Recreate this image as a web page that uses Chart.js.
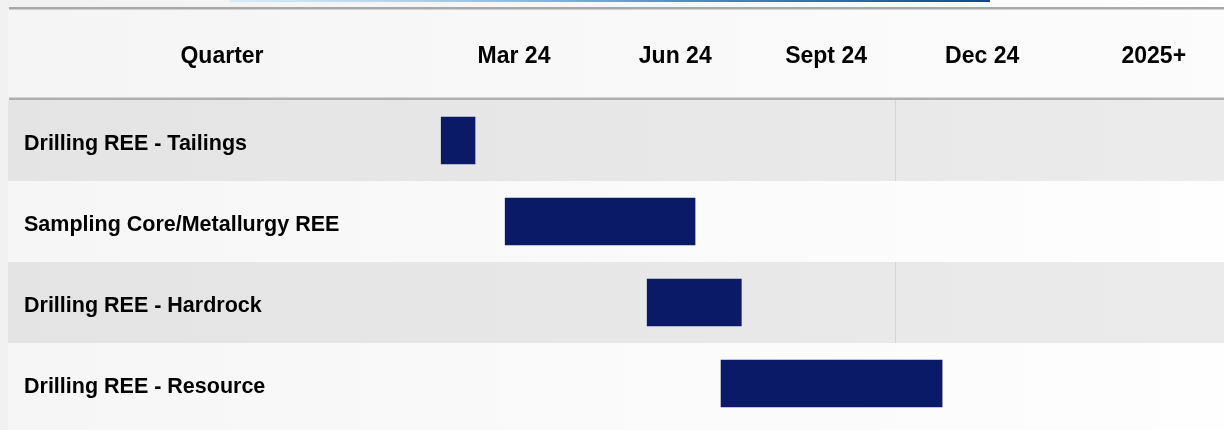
<!DOCTYPE html>
<html>
<head>
<meta charset="utf-8">
<script src="https://cdn.jsdelivr.net/npm/chart.js@4"></script>
<style>
    html, body { margin: 0; padding: 0; background: #f6f6f6; }
    #wrap { width: 1224px; height: 430px; }
</style>
</head>
<body>
<div id="wrap"><canvas id="gantt" width="1224" height="430"></canvas></div>
<script>
'use strict';

// Tasks (rows) and their start / end, in months from Jan 2024
const tasks = [
    'Drilling REE - Tailings',
    'Sampling Core/Metallurgy REE',
    'Drilling REE - Hardrock',
    'Drilling REE - Resource'
];
const taskStart = [0.1, 1.33, 4.06, 5.48];
const taskEnd = [0.75, 4.98, 5.87, 9.73];

// Header columns
const quarterLabels = ['Mar 24', 'Jun 24', 'Sept 24', 'Dec 24', '2025+'];
const quarterTicks = [1.5, 4.6, 7.5, 10.5, 13.8];
const headerTitle = 'Quarter';

const FONT = "'Liberation Sans', Arial, sans-serif";

// Draws the table look: header band, striped rows, rules
const tableBackdrop = {
    id: 'tableBackdrop',
    beforeDraw(chart) {
        const ctx = chart.ctx;
        const area = chart.chartArea;
        const x = chart.scales.x;
        const y = chart.scales.y;
        const left = 8;
        const right = chart.width;

        ctx.save();

        // page background
        let g = ctx.createLinearGradient(0, 0, chart.width, 0);
        g.addColorStop(0, '#f1f1f1');
        g.addColorStop(1, '#fdfdfd');
        ctx.fillStyle = g;
        ctx.fillRect(0, 0, chart.width, chart.height);

        // header band
        g = ctx.createLinearGradient(left, 0, right, 0);
        g.addColorStop(0, '#f5f5f5');
        g.addColorStop(1, '#fcfcfc');
        ctx.fillStyle = g;
        ctx.fillRect(left, 9, right - left, area.top - 9);

        // row stripes
        const grey = ctx.createLinearGradient(left, 0, right, 0);
        grey.addColorStop(0, '#e4e4e4');
        grey.addColorStop(1, '#ebebeb');
        const white = ctx.createLinearGradient(left, 0, right, 0);
        white.addColorStop(0, '#f6f6f6');
        white.addColorStop(1, '#fefefe');
        const sepX = x.getPixelForValue(8.83);

        tasks.forEach(function(t, i) {
            const top = i === 0 ? area.top : y.getPixelForValue(i - 0.5);
            const bottom = i === tasks.length - 1 ? chart.height : y.getPixelForValue(i + 0.5);
            ctx.fillStyle = i % 2 === 0 ? grey : white;
            ctx.fillRect(left, top, right - left, bottom - top);
            if (i % 2 === 0) {
                ctx.fillStyle = '#d5d5d5';
                ctx.fillRect(Math.round(sepX), top, 1, bottom - top);
            }
        });

        // rules
        ctx.fillStyle = '#a8a8a8';
        ctx.fillRect(9, 7, right - 9, 2.5);
        ctx.fillStyle = '#b0b0b0';
        ctx.fillRect(9, area.top - 2.5, right - 9, 2.5);

        // blue accent on top
        g = ctx.createLinearGradient(230, 0, 990, 0);
        g.addColorStop(0, 'rgba(190, 225, 245, 0.5)');
        g.addColorStop(0.6, '#4f8cc4');
        g.addColorStop(1, '#0b4a92');
        ctx.fillStyle = g;
        ctx.fillRect(230, 0, 760, 2);

        // header title above task column
        ctx.fillStyle = '#000';
        ctx.font = 'bold 23px ' + FONT;
        ctx.textAlign = 'center';
        ctx.textBaseline = 'middle';
        ctx.fillText(headerTitle, (left + y.right) / 2, x.getLabelItems()[0].options.translation[1] - 13.8);

        ctx.restore();
    }
};

const ganttChart = new Chart(document.getElementById('gantt').getContext('2d'), {
    type: 'bar',
    data: {
        labels: tasks,
        datasets: [{
            data: tasks.map(function(t, i) { return [taskStart[i], taskEnd[i]]; }),
            backgroundColor: '#0a1a66',
            borderWidth: 0,
            borderSkipped: false,
            barThickness: 47
        }]
    },
    options: {
        indexAxis: 'y',
        responsive: false,
        animation: false,
        layout: {
            padding: { left: 24, right: 0, top: 0, bottom: 6 }
        },
        plugins: {
            legend: { display: false },
            tooltip: { enabled: false }
        },
        scales: {
            x: {
                type: 'linear',
                position: 'top',
                min: 0,
                max: 15.15,
                grid: { display: false, drawTicks: false },
                border: { display: false },
                afterFit: function(scale) { scale.height = 100; },
                afterBuildTicks: function(scale) {
                    scale.ticks = quarterTicks.map(function(v) { return { value: v }; });
                },
                ticks: {
                    autoSkip: false,
                    maxRotation: 0,
                    padding: 30,
                    color: '#000',
                    font: { family: FONT, size: 23, weight: 'bold' },
                    callback: function(value, index) { return quarterLabels[index]; }
                }
            },
            y: {
                grid: { display: false, drawTicks: false },
                border: { display: false },
                afterFit: function(scale) {
                    scale.width = 412;
                    scale.paddingTop = 0;
                    scale.paddingBottom = 0;
                },
                ticks: {
                    crossAlign: 'far',
                    padding: 0,
                    labelOffset: 4,
                    color: '#000',
                    font: { family: FONT, size: 21.5, weight: 'bold' }
                }
            }
        }
    },
    plugins: [tableBackdrop]
});
</script>
</body>
</html>
